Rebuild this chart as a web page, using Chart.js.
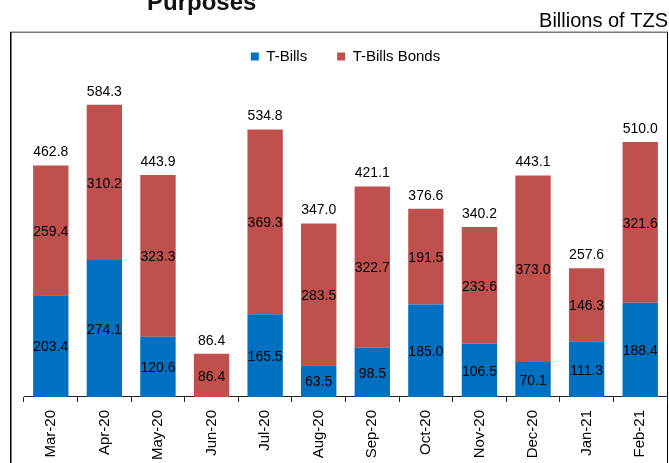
<!DOCTYPE html>
<html>
<head>
<meta charset="utf-8">
<script src="https://cdn.jsdelivr.net/npm/chart.js@4.4.0/dist/chart.umd.min.js"></script>
<style>
  html, body { margin: 0; padding: 0; background: #fff; }
  #wrap { width: 669px; height: 463px; position: relative; overflow: hidden; }
</style>
</head>
<body>
<div id="wrap"><canvas id="c" width="669" height="463"></canvas></div>
<script>
const categories = ['Mar-20','Apr-20','May-20','Jun-20','Jul-20','Aug-20','Sep-20','Oct-20','Nov-20','Dec-20','Jan-21','Feb-21'];
const tBills = [203.4, 274.1, 120.6, null, 165.5, 63.5, 98.5, 185.0, 106.5, 70.1, 111.3, 188.4];
const tBillsBonds = [259.4, 310.2, 323.3, 86.4, 369.3, 283.5, 322.7, 191.5, 233.6, 373.0, 146.3, 321.6];
const totals = [462.8, 584.3, 443.9, 86.4, 534.8, 347.0, 421.1, 376.6, 340.2, 443.1, 257.6, 510.0];
const titleText = 'Purposes';
const unitText = 'Billions of TZS';

const FONT = '"Liberation Sans", Arial, Helvetica, sans-serif';

const framePlugin = {
  id: 'frame',
  beforeDraw(chart) {
    const ctx = chart.ctx;
    ctx.save();
    ctx.fillStyle = '#fff';
    ctx.fillRect(0, 0, chart.width, chart.height);
    // title (cut off at top)
    ctx.fillStyle = '#111';
    ctx.font = 'bold 24px ' + FONT;
    ctx.textBaseline = 'alphabetic';
    ctx.textAlign = 'left';
    ctx.fillText(titleText, 147, 10);
    // unit text
    ctx.font = '20px ' + FONT;
    ctx.fillStyle = '#000';
    ctx.textAlign = 'right';
    ctx.fillText(unitText, 668, 27);
    // border
    ctx.strokeStyle = '#777';
    ctx.lineWidth = 1.5;
    ctx.beginPath();
    ctx.moveTo(10, 32.25);
    ctx.lineTo(668, 32.25);
    ctx.stroke();
    ctx.strokeStyle = '#000';
    ctx.lineWidth = 1.5;
    ctx.beginPath();
    ctx.moveTo(10.75, 32);
    ctx.lineTo(10.75, 463);
    ctx.stroke();
    ctx.lineWidth = 1;
    ctx.beginPath();
    ctx.moveTo(667.5, 32);
    ctx.lineTo(667.5, 463);
    ctx.stroke();
    ctx.restore();
  }
};

const labelPlugin = {
  id: 'valueLabels',
  afterDatasetsDraw(chart) {
    const ctx = chart.ctx;
    ctx.save();
    ctx.font = '14px ' + FONT;
    ctx.fillStyle = '#000';
    ctx.textAlign = 'center';
    ctx.textBaseline = 'middle';
    chart.data.datasets.forEach((ds, di) => {
      const meta = chart.getDatasetMeta(di);
      meta.data.forEach((bar, i) => {
        const v = ds.data[i];
        if (v === null || v === undefined) return;
        const yc = (bar.y + bar.base) / 2;
        ctx.fillText(v.toFixed(1), bar.x, yc + 1.5);
      });
    });
    const topMeta = chart.getDatasetMeta(1);
    topMeta.data.forEach((bar, i) => {
      ctx.fillText(totals[i].toFixed(1), bar.x, bar.y - 13);
    });
    ctx.restore();
  }
};

new Chart(document.getElementById('c'), {
  type: 'bar',
  data: {
    labels: categories,
    datasets: [
      { label: 'T-Bills', data: tBills, backgroundColor: '#0070C0', borderWidth: 0,
        barPercentage: 0.66, categoryPercentage: 1 },
      { label: 'T-Bills Bonds', data: tBillsBonds, backgroundColor: '#C0504D', borderWidth: 0,
        barPercentage: 0.66, categoryPercentage: 1 }
    ]
  },
  options: {
    responsive: false,
    devicePixelRatio: 1,
    animation: false,
    layout: { padding: { top: 19, left: 24, right: 2, bottom: -5 } },
    plugins: {
      legend: {
        display: true,
        position: 'top',
        align: 'center',
        labels: {
          boxWidth: 8, boxHeight: 8, padding: 30, color: '#000',
          font: { family: FONT, size: 15 }
        }
      },
      tooltip: { enabled: false },
      title: { display: false }
    },
    scales: {
      x: {
        stacked: true,
        offset: true,
        grid: { display: true, drawOnChartArea: false, drawTicks: true, tickLength: 5, color: '#222', offset: true },
        border: { display: true, color: '#222', width: 1 },
        ticks: { minRotation: 90, maxRotation: 90, autoSkip: false, color: '#000', padding: 8,
                 font: { family: FONT, size: 15 } }
      },
      y: {
        stacked: true,
        display: false,
        min: 0,
        max: 646
      }
    }
  },
  plugins: [framePlugin, labelPlugin]
});
</script>
</body>
</html>
